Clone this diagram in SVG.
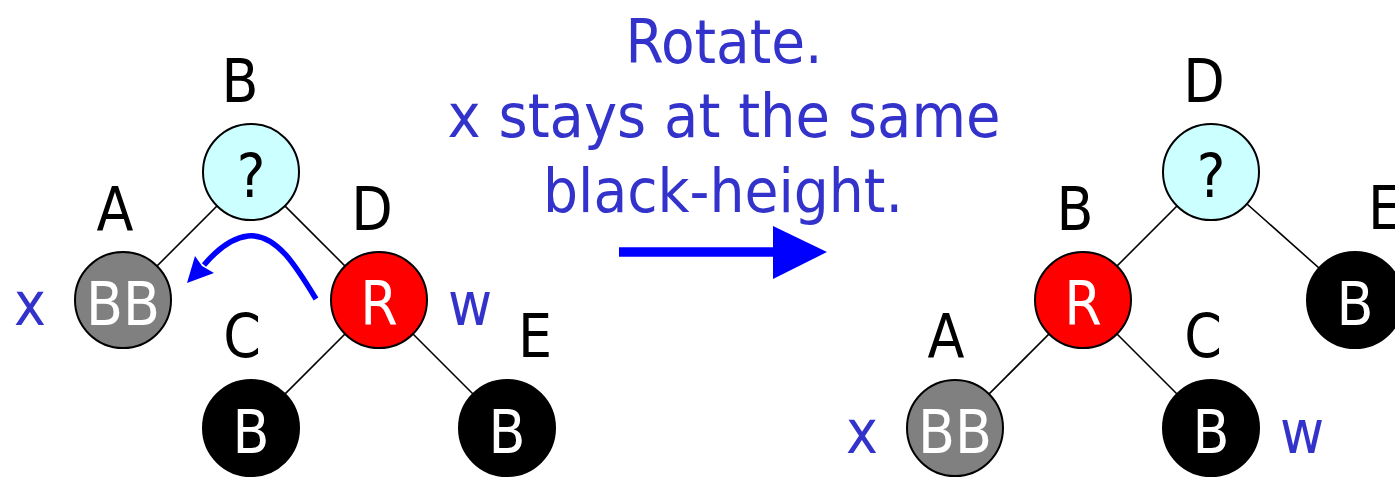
<svg xmlns="http://www.w3.org/2000/svg" width="1395" height="477" viewBox="0 0 1395 477">
  <style>
    text { font-family: "DejaVu Sans", Verdana, sans-serif; font-stretch: condensed; font-size: 60px; text-anchor: middle; }
    .lbl { fill: #000000; }
    .in { fill: #FFFFFF; }
    .q { fill: #000000; }
    .blue { fill: #3333CC; }
    .node { stroke: #000000; stroke-width: 2; }
    .edge { stroke: #000000; stroke-width: 1.6; }
    .unk { fill: #CCFFFF; }
    .bb { fill: #808080; }
    .red { fill: #FF0000; }
    .blk { fill: #000000; }
  </style>
  <rect width="1395" height="477" fill="#FFFFFF"/>

  <g id="connectors">
    <line class="edge" x1="251" y1="172" x2="123" y2="300"/>
    <line class="edge" x1="251" y1="172" x2="379" y2="300"/>
    <line class="edge" x1="379" y1="300" x2="251" y2="428"/>
    <line class="edge" x1="379" y1="300" x2="507" y2="428"/>
    <line class="edge" x1="1211" y1="172" x2="1083" y2="300"/>
    <line class="edge" x1="1211" y1="172" x2="1355" y2="300"/>
    <line class="edge" x1="1083" y1="300" x2="955" y2="428"/>
    <line class="edge" x1="1083" y1="300" x2="1211" y2="428"/>
    <path d="M 316 299 C 296 266 276 233 248 236 C 230 238 215 252 204 265" fill="none" stroke="#0000FF" stroke-width="5.5"/>
    <polygon points="187,283 195,256 202,266 214,273" fill="#0000FF"/>
    <line x1="619" y1="252" x2="776" y2="252" stroke="#0000FF" stroke-width="9.5"/>
    <polygon points="773,226 827,252 773,279" fill="#0000FF"/>
  </g>

  <g id="caption">
    <text class="blue" x="724" y="63" textLength="197" lengthAdjust="spacingAndGlyphs">Rotate.</text>
    <text class="blue" x="724" y="137" textLength="553" lengthAdjust="spacingAndGlyphs">x stays at the same</text>
    <text class="blue" x="723" y="212" textLength="360" lengthAdjust="spacingAndGlyphs">black-height.</text>
  </g>

  <!-- Left tree -->
  <g id="L-B">
    <circle class="node unk" cx="251" cy="172" r="48"/>
    <text class="q" x="251" y="197">?</text>
    <text class="lbl" x="240" y="102">B</text>
  </g>
  <g id="L-A">
    <circle class="node bb" cx="123" cy="300" r="48"/>
    <text class="in" x="123" y="325">BB</text>
    <text class="lbl" x="115" y="230">A</text>
    <text class="blue" x="30" y="325">x</text>
  </g>
  <g id="L-D">
    <circle class="node red" cx="379" cy="300" r="48"/>
    <text class="in" x="379" y="325">R</text>
    <text class="lbl" x="372" y="230">D</text>
    <text class="blue" x="470" y="325">w</text>
  </g>
  <g id="L-C">
    <circle class="node blk" cx="251" cy="428" r="48"/>
    <text class="in" x="251" y="453">B</text>
    <text class="lbl" x="242" y="357">C</text>
  </g>
  <g id="L-E">
    <circle class="node blk" cx="507" cy="428" r="48"/>
    <text class="in" x="507" y="453">B</text>
    <text class="lbl" x="535" y="357">E</text>
  </g>

  <!-- Right tree -->
  <g id="R-D">
    <circle class="node unk" cx="1211" cy="172" r="48"/>
    <text class="q" x="1211" y="197">?</text>
    <text class="lbl" x="1204" y="102">D</text>
  </g>
  <g id="R-B">
    <circle class="node red" cx="1083" cy="300" r="48"/>
    <text class="in" x="1083" y="325">R</text>
    <text class="lbl" x="1075" y="230">B</text>
  </g>
  <g id="R-E">
    <circle class="node blk" cx="1355" cy="300" r="48"/>
    <text class="in" x="1355" y="325">B</text>
    <text class="lbl" x="1368" y="229" style="text-anchor:start">E</text>
  </g>
  <g id="R-A">
    <circle class="node bb" cx="955" cy="428" r="48"/>
    <text class="in" x="955" y="453">BB</text>
    <text class="lbl" x="946" y="357">A</text>
    <text class="blue" x="862" y="453">x</text>
  </g>
  <g id="R-C">
    <circle class="node blk" cx="1211" cy="428" r="48"/>
    <text class="in" x="1211" y="453">B</text>
    <text class="lbl" x="1203" y="357">C</text>
    <text class="blue" x="1302" y="453">w</text>
  </g>
</svg>
